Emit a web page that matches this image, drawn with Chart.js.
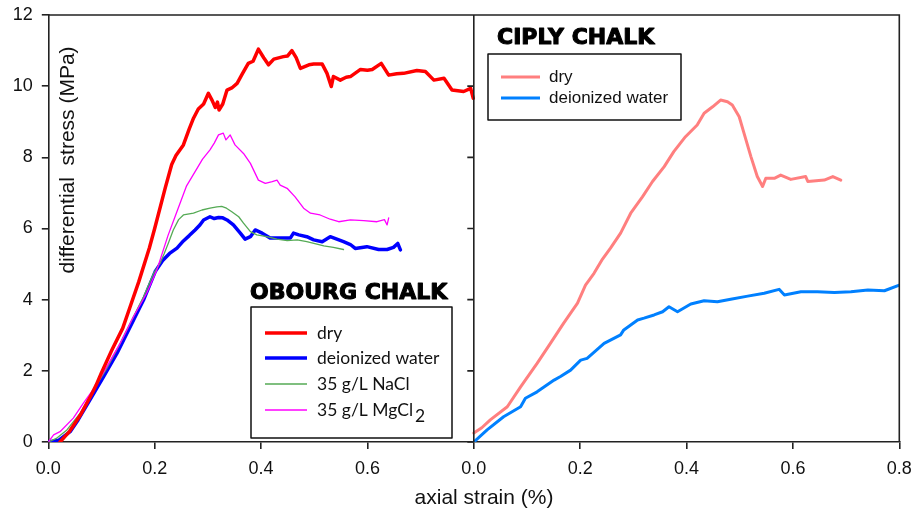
<!DOCTYPE html>
<html><head><meta charset="utf-8">
<script src="https://cdn.jsdelivr.net/npm/chart.js@4.4.1/dist/chart.umd.min.js"></script>
<style>html,body{margin:0;padding:0;background:#fff;overflow:hidden}</style>
</head><body>
<canvas id="c" width="918" height="513"></canvas>
<script>
// ---- tick labels ----
const xTickLabels = ['0.0','0.2','0.4','0.6','0.0','0.2','0.4','0.6','0.8'];
const yTickValues = [0,2,4,6,8,10,12];

// ---- OBOURG CHALK (left panel) ----
const obDryStrain = [0.022,0.04,0.06,0.08,0.09,0.10,0.12,0.14,0.155,0.17,0.19,0.20,0.22,0.232,0.24,0.254,0.265,0.273,0.282,0.292,0.301,0.308,0.314,0.318,0.321,0.328,0.336,0.345,0.355,0.365,0.376,0.385,0.395,0.405,0.414,0.424,0.442,0.45,0.458,0.466,0.474,0.49,0.499,0.515,0.524,0.532,0.536,0.549,0.56,0.568,0.587,0.6,0.609,0.626,0.64,0.655,0.668,0.693,0.709,0.725,0.744,0.759,0.781,0.794,0.799];
const obDryStress = [0.0,0.3,0.75,1.3,1.6,1.95,2.6,3.2,3.85,4.5,5.45,6.0,7.15,7.8,8.05,8.35,8.8,9.1,9.36,9.5,9.8,9.6,9.4,9.55,9.33,9.5,9.89,9.95,10.08,10.35,10.64,10.7,11.04,10.8,10.6,10.76,10.83,10.85,11.0,10.8,10.5,10.6,10.62,10.62,10.36,9.99,10.27,10.17,10.25,10.27,10.47,10.45,10.47,10.64,10.31,10.35,10.36,10.44,10.41,10.17,10.22,9.89,9.85,9.94,9.66];

const obWaterStrain = [0,0.02,0.041,0.056,0.078,0.104,0.129,0.154,0.179,0.201,0.215,0.228,0.242,0.254,0.265,0.276,0.285,0.292,0.304,0.312,0.320,0.328,0.336,0.348,0.361,0.370,0.380,0.389,0.402,0.417,0.436,0.455,0.461,0.471,0.486,0.499,0.515,0.530,0.555,0.568,0.577,0.599,0.621,0.637,0.649,0.657,0.662];
const obWaterStress = [0,0.05,0.29,0.62,1.18,1.84,2.49,3.24,3.99,4.79,5.1,5.3,5.45,5.65,5.8,5.96,6.1,6.24,6.33,6.28,6.31,6.3,6.24,6.10,5.87,5.70,5.77,5.96,5.87,5.73,5.73,5.73,5.87,5.82,5.77,5.68,5.63,5.77,5.63,5.55,5.44,5.49,5.41,5.41,5.47,5.58,5.40];

const obNaClStrain = [0,0.015,0.035,0.060,0.085,0.110,0.132,0.154,0.179,0.198,0.210,0.218,0.226,0.235,0.245,0.254,0.273,0.289,0.304,0.317,0.326,0.335,0.345,0.358,0.367,0.380,0.392,0.411,0.430,0.449,0.468,0.486,0.505,0.518,0.536,0.555];
const obNaClStress = [0,0.1,0.34,0.81,1.46,2.07,2.68,3.34,4.08,4.74,5.02,5.3,5.6,5.96,6.25,6.38,6.43,6.52,6.57,6.61,6.62,6.57,6.47,6.33,6.15,5.91,5.82,5.77,5.70,5.66,5.68,5.63,5.56,5.51,5.47,5.41];

const obMgCl2Strain = [0,0.01,0.022,0.047,0.066,0.088,0.110,0.135,0.160,0.185,0.204,0.212,0.225,0.24,0.26,0.276,0.29,0.304,0.312,0.320,0.329,0.334,0.342,0.351,0.367,0.380,0.395,0.408,0.421,0.430,0.436,0.449,0.464,0.480,0.493,0.511,0.530,0.546,0.568,0.593,0.618,0.632,0.637,0.640];
const obMgCl2Stress = [0,0.2,0.29,0.67,1.09,1.55,2.12,2.77,3.52,4.18,4.83,5.2,5.8,6.4,7.2,7.6,7.95,8.21,8.4,8.63,8.68,8.49,8.63,8.35,8.11,7.83,7.36,7.27,7.32,7.36,7.22,7.13,6.89,6.57,6.43,6.38,6.26,6.19,6.24,6.22,6.19,6.25,6.1,6.3];

// ---- CIPLY CHALK (right panel) ----
const ciDryStrain = [0,0.015,0.031,0.063,0.088,0.119,0.144,0.169,0.195,0.210,0.226,0.242,0.257,0.276,0.295,0.317,0.336,0.358,0.376,0.398,0.420,0.433,0.449,0.464,0.477,0.486,0.499,0.508,0.521,0.533,0.543,0.549,0.565,0.577,0.596,0.624,0.628,0.659,0.675,0.690];
const ciDryStress = [0.25,0.4,0.62,0.99,1.55,2.21,2.77,3.34,3.90,4.41,4.74,5.14,5.45,5.87,6.43,6.89,7.32,7.74,8.16,8.58,8.91,9.24,9.42,9.61,9.56,9.47,9.14,8.68,8.02,7.46,7.18,7.41,7.41,7.50,7.38,7.46,7.32,7.36,7.46,7.36];

const ciWaterStrain = [0,0.025,0.056,0.088,0.097,0.119,0.151,0.163,0.182,0.201,0.213,0.245,0.276,0.282,0.308,0.320,0.339,0.355,0.367,0.383,0.408,0.433,0.458,0.483,0.515,0.546,0.574,0.584,0.615,0.646,0.678,0.709,0.741,0.772,0.800];
const ciWaterStress = [0,0.34,0.71,0.99,1.23,1.41,1.74,1.84,2.02,2.30,2.35,2.77,3.01,3.15,3.43,3.48,3.57,3.66,3.80,3.66,3.88,3.97,3.94,4.01,4.10,4.18,4.29,4.13,4.22,4.22,4.20,4.22,4.27,4.25,4.41];

// ---- styling ----
const AXIS = '#222222';
const TICK_FONT = {family: "'Liberation Sans', Arial, sans-serif", size: 18};
const pts = (xs, ys) => xs.map((v, i) => ({x: v, y: ys[i]}));

const ds = (label, xs, ys, color, w, axis) => ({
  label, data: pts(xs, ys), borderColor: color, backgroundColor: color,
  borderWidth: w, pointRadius: 0, tension: 0, fill: false, xAxisID: axis,
  borderJoinStyle: 'round', borderCapStyle: 'round'
});

const overlay = {
  id: 'overlay',
  afterDatasetsDraw(chart) {
    const {ctx, chartArea: a, scales: {x, y}} = chart;
    ctx.save();
    // frame: top, right, divider + divider ticks
    ctx.strokeStyle = AXIS; ctx.lineWidth = 1.6; ctx.lineCap = 'butt';
    const xm = x.getPixelForValue(0.8);
    ctx.beginPath();
    ctx.moveTo(a.left, a.top); ctx.lineTo(a.right, a.top); ctx.lineTo(a.right, a.bottom);
    ctx.moveTo(xm, a.top); ctx.lineTo(xm, a.bottom);
    yTickValues.forEach(v => { const py = y.getPixelForValue(v); ctx.moveTo(xm - 6.5, py); ctx.lineTo(xm, py); });
    ctx.stroke();

    // axis titles
    ctx.fillStyle = '#111';
    ctx.font = "21px 'Liberation Sans', Arial, sans-serif";
    ctx.textAlign = 'center'; ctx.textBaseline = 'middle';
    ctx.fillText('axial strain (%)', 484, 498);
    ctx.save();
    ctx.translate(68, 160); ctx.rotate(-Math.PI / 2);
    ctx.fillText('differential  stress (MPa)', 0, 0);
    ctx.restore();

    // panel titles (heavy)
    ctx.textAlign = 'left';
    ctx.font = "bold 22px 'DejaVu Sans', sans-serif";
    ctx.fillStyle = '#000'; ctx.strokeStyle = '#000'; ctx.lineWidth = 1.1; ctx.lineJoin = 'round';
    ctx.fillText('OBOURG CHALK', 250, 293);
    ctx.strokeText('OBOURG CHALK', 250, 293);
    ctx.fillText('CIPLY CHALK', 497, 38);
    ctx.strokeText('CIPLY CHALK', 497, 38);

    // left legend
    ctx.lineWidth = 1.5; ctx.strokeStyle = '#111';
    ctx.fillStyle = '#fff';
    ctx.fillRect(251, 307, 201, 131);
    ctx.strokeRect(251, 307, 201, 131);
    const leftItems = [
      ['dry', '#FF0000', 3.5], ['deionized water', '#0000FF', 3.5],
      ['35 g/L NaCl', '#55AA55', 1.3], ['35 g/L MgCl', '#FF00FF', 1.3]
    ];
    const ly = [333, 358, 384, 410];
    ctx.font = "17.5px Lato, 'Open Sans', sans-serif";
    ctx.textBaseline = 'middle';
    leftItems.forEach((it, i) => {
      ctx.strokeStyle = it[1]; ctx.lineWidth = it[2];
      ctx.beginPath(); ctx.moveTo(265, ly[i]); ctx.lineTo(307, ly[i]); ctx.stroke();
      ctx.fillStyle = '#111';
      ctx.fillText(it[0], 317, ly[i]);
      if (i === 3) {
        const w = ctx.measureText(it[0]).width;
        ctx.fillText('2', 317 + w + 2, ly[i] + 6);
      }
    });

    // right legend
    ctx.lineWidth = 1.5; ctx.strokeStyle = '#111';
    ctx.fillStyle = '#fff';
    ctx.fillRect(488, 54, 193, 66);
    ctx.strokeRect(488, 54, 193, 66);
    const rightItems = [['dry', '#FF7F7F'], ['deionized water', '#0080FF']];
    const ry = [77, 98];
    ctx.font = "17px 'Liberation Sans', Arial, sans-serif";
    rightItems.forEach((it, i) => {
      ctx.strokeStyle = it[1]; ctx.lineWidth = 3;
      ctx.beginPath(); ctx.moveTo(501, ry[i]); ctx.lineTo(540, ry[i]); ctx.stroke();
      ctx.fillStyle = '#111';
      ctx.fillText(it[0], 549, ry[i]);
    });
    ctx.restore();
  }
};

new Chart(document.getElementById('c'), {
  type: 'line',
  data: {
    datasets: [
      ds('dry (Obourg)', obDryStrain, obDryStress, '#FF0000', 3.5, 'x'),
      ds('35 g/L MgCl2 (Obourg)', obMgCl2Strain, obMgCl2Stress, '#FF00FF', 1.3, 'x'),
      ds('35 g/L NaCl (Obourg)', obNaClStrain, obNaClStress, '#55AA55', 1.3, 'x'),
      ds('deionized water (Obourg)', obWaterStrain, obWaterStress, '#0000FF', 3.5, 'x'),
      ds('dry (Ciply)', ciDryStrain, ciDryStress, '#FF7F7F', 3, 'x2'),
      ds('deionized water (Ciply)', ciWaterStrain, ciWaterStress, '#0080FF', 3, 'x2')
    ]
  },
  options: {
    responsive: false, animation: false,
    layout: {padding: {left: 0, right: 18.7, top: 15, bottom: 0}},
    plugins: {legend: {display: false}, tooltip: {enabled: false}},
    scales: {
      x: {
        type: 'linear', min: 0, max: 1.6,
        afterFit: s => { s.height = 71; s.paddingLeft = 0; s.paddingRight = 0; },
        ticks: {stepSize: 0.2, color: '#111', font: TICK_FONT, padding: 9, maxRotation: 0,
                callback: (v, i) => xTickLabels[i]},
        afterBuildTicks: s => { s.ticks = xTickLabels.map((_, i) => ({value: i * 0.2})); },
        grid: {drawOnChartArea: false, drawTicks: true, tickLength: 7, color: AXIS, lineWidth: 1.6},
        border: {display: true, color: AXIS, width: 1.6}
      },
      x2: {type: 'linear', min: -0.8, max: 0.8, display: false},
      y: {
        type: 'linear', min: 0, max: 12,
        afterFit: s => { s.width = 48.3; s.paddingTop = 0; s.paddingBottom = 0; },
        afterBuildTicks: s => { s.ticks = yTickValues.map(v => ({value: v})); },
        ticks: {color: '#111', font: TICK_FONT, padding: 9},
        grid: {drawOnChartArea: false, drawTicks: true, tickLength: 6.5, color: AXIS, lineWidth: 1.6},
        border: {display: true, color: AXIS, width: 1.6}
      }
    }
  },
  plugins: [overlay]
});
</script>
</body></html>
